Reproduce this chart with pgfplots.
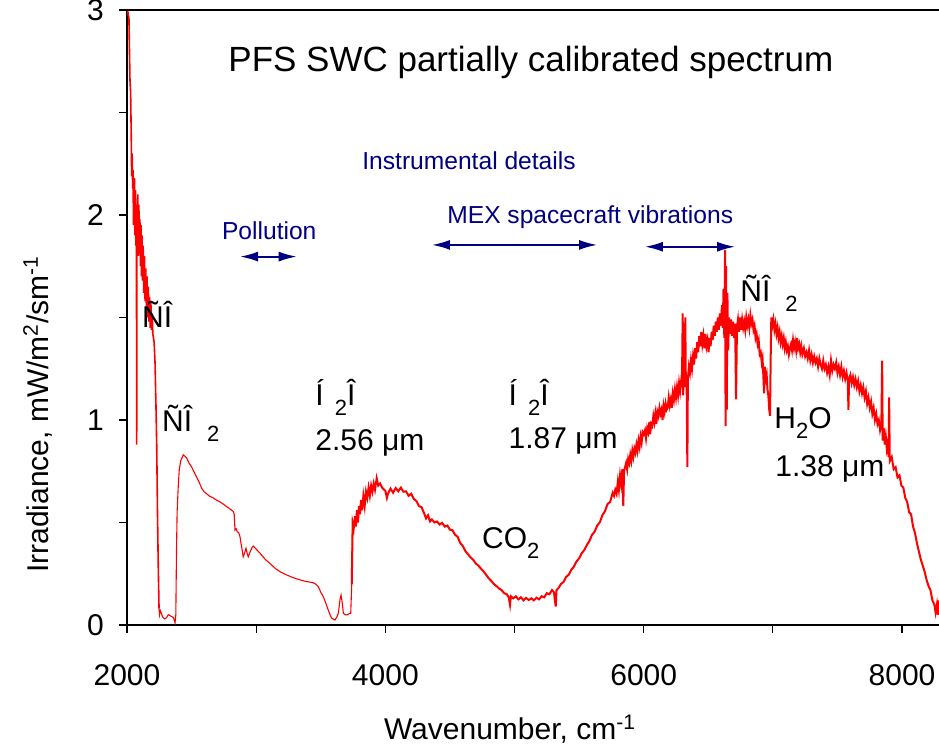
\documentclass[border=0pt]{standalone}
\usepackage{pgfplots}
\pgfplotsset{compat=1.18}
\usepackage{fontspec}
\setmainfont{Liberation Sans}
\usetikzlibrary{arrows.meta}
\definecolor{navyb}{RGB}{0,0,128}
\newcommand{\sub}[1]{\raisebox{-5pt}{\fontsize{11}{11}\selectfont #1}}
\pgfplotstableread{
x y
2000 3.10
2008 2.98
2015 2.96
2023 2.66
2028 2.60
2033 2.38
2036 2.19
2040 2.30
2044 2.13
2047 2.22
2050 1.95
2053 2.15
2056 1.98
2059 2.18
2062 1.90
2066 2.12
2070 1.85
2073 2.05
2075 0.88
2077 2.02
2080 1.88
2084 2.10
2088 1.80
2092 2.05
2096 1.82
2100 1.98
2104 1.75
2108 1.95
2112 1.70
2116 1.90
2120 1.68
2125 1.85
2130 1.62
2135 1.80
2140 1.58
2145 1.74
2150 1.55
2155 1.70
2160 1.50
2165 1.65
2170 1.48
2175 1.60
2180 1.45
2185 1.57
2190 1.44
2195 1.52
2200 1.42
2205 1.40
2210 1.38
2217 1.28
2224 1.08
2230 0.88
2236 0.55
2242 0.29
2248 0.08
2252 0.05
2258 0.07
2265 0.06
2275 0.04
2290 0.03
2305 0.035
2320 0.05
2335 0.045
2350 0.04
2360 0.035
2372 0.01
2378 0.05
2383 0.35
2388 0.55
2397 0.68
2405 0.76
2416 0.80
2436 0.83
2445 0.825
2462 0.815
2480 0.79
2501 0.77
2520 0.745
2540 0.72
2560 0.695
2578 0.667
2597 0.65
2617 0.64
2640 0.628
2668 0.62
2690 0.61
2720 0.60
2745 0.59
2772 0.577
2800 0.565
2823 0.553
2830 0.54
2836 0.463
2845 0.47
2854 0.455
2865 0.45
2875 0.43
2882 0.40
2888 0.38
2895 0.35
2900 0.333
2910 0.35
2921 0.374
2930 0.35
2939 0.333
2955 0.36
2970 0.38
2978 0.385
3000 0.37
3030 0.35
3070 0.32
3107 0.30
3150 0.275
3185 0.26
3236 0.244
3290 0.23
3339 0.22
3390 0.212
3442 0.206
3460 0.20
3481 0.187
3500 0.16
3520 0.138
3540 0.105
3558 0.073
3575 0.045
3585 0.033
3610 0.024
3625 0.04
3636 0.057
3648 0.12
3657 0.146
3666 0.11
3675 0.057
3690 0.05
3701 0.049
3720 0.055
3732 0.057
3740 0.20
3747 0.496
3755 0.47
3765 0.53
3772 0.48
3780 0.56
3788 0.50
3796 0.58
3804 0.54
3812 0.61
3820 0.56
3830 0.63
3840 0.58
3850 0.65
3860 0.62
3870 0.67
3880 0.63
3890 0.68
3900 0.65
3910 0.69
3920 0.66
3933 0.716
3945 0.68
3959 0.69
3975 0.67
3990 0.66
4000 0.655
4012 0.62
4020 0.64
4040 0.665
4060 0.645
4080 0.668
4100 0.652
4120 0.67
4140 0.65
4160 0.652
4180 0.63
4200 0.64
4220 0.615
4240 0.605
4260 0.58
4280 0.575
4300 0.545
4315 0.52
4330 0.535
4346 0.505
4360 0.515
4380 0.50
4400 0.505
4420 0.49
4440 0.498
4460 0.48
4480 0.485
4500 0.465
4520 0.462
4540 0.44
4560 0.43
4580 0.40
4600 0.385
4620 0.36
4640 0.345
4660 0.33
4680 0.318
4700 0.30
4720 0.29
4740 0.275
4760 0.262
4780 0.245
4800 0.228
4820 0.215
4840 0.20
4860 0.19
4880 0.178
4900 0.17
4920 0.155
4940 0.15
4955 0.135
4965 0.098
4972 0.14
4990 0.13
5010 0.14
5030 0.125
5050 0.135
5070 0.12
5090 0.132
5110 0.122
5130 0.13
5150 0.12
5170 0.133
5190 0.125
5210 0.14
5230 0.135
5250 0.155
5270 0.15
5290 0.17
5305 0.16
5319 0.09
5325 0.17
5340 0.18
5360 0.20
5380 0.21
5400 0.235
5420 0.245
5440 0.27
5460 0.285
5480 0.31
5500 0.325
5520 0.35
5540 0.365
5560 0.39
5580 0.41
5600 0.44
5620 0.455
5640 0.485
5660 0.50
5680 0.535
5700 0.555
5720 0.59
5740 0.60
5760 0.645
5770 0.63
5780 0.66
5790 0.64
5800 0.70
5808 0.66
5817 0.73
5825 0.69
5835 0.76
5842 0.58
5848 0.75
5856 0.77
5864 0.79
5872 0.76
5880 0.81
5888 0.79
5896 0.83
5904 0.80
5912 0.85
5920 0.82
5928 0.86
5936 0.84
5944 0.88
5952 0.85
5960 0.90
5968 0.87
5976 0.92
5984 0.89
5992 0.94
6000 0.93
6010 0.95
6018 0.91
6027 0.96
6035 0.94
6044 0.99
6050 0.93
6058 0.98
6066 0.97
6075 1.02
6083 0.99
6090 1.03
6098 0.98
6106 1.04
6114 1.02
6122 1.06
6130 1.03
6138 1.05
6146 1.00
6154 1.07
6162 1.04
6170 1.08
6178 1.05
6186 1.06
6194 1.11
6202 1.07
6210 1.10
6218 1.06
6226 1.13
6234 1.10
6242 1.15
6250 1.11
6258 1.16
6266 1.12
6274 1.18
6282 1.14
6290 1.19
6296 1.16
6302 1.52
6305 1.12
6312 1.24
6318 1.16
6322 1.50
6326 1.20
6332 1.22
6338 0.77
6342 1.20
6350 1.26
6358 1.23
6366 1.29
6374 1.25
6382 1.31
6390 1.27
6398 1.35
6406 1.30
6414 1.38
6422 1.33
6430 1.41
6438 1.36
6446 1.43
6454 1.37
6462 1.41
6470 1.35
6478 1.42
6486 1.36
6494 1.39
6502 1.33
6510 1.40
6518 1.36
6526 1.43
6534 1.39
6542 1.46
6550 1.41
6558 1.48
6566 1.43
6574 1.50
6582 1.44
6590 1.52
6598 1.46
6606 1.56
6612 1.45
6618 1.64
6624 1.40
6630 1.83
6634 0.97
6638 1.75
6643 1.05
6648 1.62
6654 1.34
6660 1.50
6668 1.42
6676 1.49
6684 1.41
6692 1.48
6700 1.40
6708 1.47
6715 1.10
6722 1.45
6730 1.49
6738 1.43
6746 1.50
6754 1.44
6762 1.49
6770 1.45
6778 1.48
6786 1.44
6794 1.50
6802 1.46
6810 1.49
6818 1.45
6826 1.51
6834 1.47
6842 1.49
6850 1.44
6858 1.46
6866 1.40
6874 1.42
6882 1.37
6890 1.39
6898 1.32
6906 1.33
6914 1.28
6920 1.30
6926 1.22
6932 1.13
6938 1.26
6945 1.20
6952 1.22
6958 1.15
6965 1.12
6972 1.05
6978 1.02
6983 1.30
6988 1.50
6996 1.46
7004 1.49
7012 1.44
7020 1.47
7028 1.42
7036 1.45
7044 1.40
7052 1.43
7060 1.38
7068 1.41
7076 1.37
7084 1.40
7092 1.35
7100 1.38
7108 1.34
7116 1.36
7124 1.32
7132 1.35
7140 1.37
7148 1.34
7156 1.39
7164 1.35
7172 1.38
7180 1.34
7188 1.40
7196 1.35
7204 1.37
7212 1.33
7220 1.36
7228 1.32
7240 1.35
7250 1.31
7260 1.33
7270 1.30
7280 1.34
7290 1.29
7300 1.32
7310 1.28
7320 1.31
7330 1.28
7340 1.30
7350 1.26
7360 1.30
7370 1.27
7380 1.25
7390 1.29
7400 1.25
7410 1.27
7420 1.23
7430 1.26
7440 1.22
7450 1.29
7460 1.24
7470 1.27
7480 1.25
7490 1.28
7500 1.23
7510 1.26
7520 1.22
7530 1.26
7540 1.21
7550 1.24
7560 1.20
7570 1.23
7580 1.19
7585 1.05
7590 1.20
7600 1.22
7610 1.18
7620 1.21
7630 1.17
7640 1.20
7650 1.16
7660 1.19
7670 1.14
7680 1.17
7690 1.13
7700 1.16
7710 1.11
7720 1.14
7730 1.08
7740 1.11
7750 1.06
7760 1.09
7770 1.03
7780 1.06
7790 1.00
7800 1.03
7810 0.98
7820 1.00
7830 0.95
7840 0.98
7846 1.29
7850 0.90
7858 0.96
7866 0.88
7874 0.92
7882 0.86
7890 0.89
7896 0.82
7900 1.11
7905 0.80
7920 0.82
7935 0.76
7950 0.77
7965 0.72
7980 0.73
7995 0.68
8010 0.67
8025 0.62
8040 0.60
8055 0.55
8070 0.54
8085 0.48
8100 0.45
8115 0.40
8130 0.36
8145 0.32
8160 0.29
8175 0.26
8190 0.22
8205 0.19
8220 0.17
8235 0.12
8250 0.10
8260 0.06
8270 0.10
8278 0.05
8286 0.12
}\spectrum
\begin{document}
\begin{tikzpicture}
\begin{axis}[
  at={(0,0)}, anchor=south west,
  scale only axis, width=406pt, height=307.5pt,
  xmin=2000, xmax=8286, ymin=0, ymax=3,
  axis lines=left,
  axis line style={-, line width=0.8pt, black},
  xtick={2000,4000,6000,8000}, minor xtick={3000,5000,7000},
  ytick={0,1,2,3}, minor ytick={0.5,1.5,2.5},
  tick align=outside,
  major tick length=4pt, minor tick length=4pt,
  every tick/.style={black, line width=0.6pt},
  /pgf/number format/assume math mode=true,
  /pgf/number format/1000 sep={},
  tick label style={font=\fontsize{15}{18}\selectfont},
  xticklabel style={yshift=-12pt},
  yticklabel style={xshift=-4pt},
  xlabel={Wavenumber, cm\textsuperscript{-1}},
  ylabel={Irradiance, mW/m\textsuperscript{2}/sm\textsuperscript{-1}},
  every axis x label/.style={at={(axis description cs:0.4717,-0.187)}, anchor=base, font=\fontsize{15}{18}\selectfont},
  every axis y label/.style={at={(axis description cs:-0.0969,0.343)}, rotate=90, anchor=base, font=\fontsize{15}{18}\selectfont},
  clip=true,
]
\addplot[red, line width=0.8pt, mark=none, restrict x to domain=2000:2250] table[x=x, y=y] {\spectrum};
\addplot[red, line width=0.55pt, mark=none, restrict x to domain=2248:3747] table[x=x, y=y] {\spectrum};
\addplot[red, line width=1.0pt, mark=none, restrict x to domain=3740:8300] table[x=x, y=y] {\spectrum};
\draw[line width=0.8pt, black] (rel axis cs:0,1) -- (rel axis cs:1,1);
\begin{scope}[every node/.style={inner sep=0pt, anchor=base west, font=\fontsize{15}{18}\selectfont}]
\node[font=\fontsize{17.5}{20}\selectfont] at (axis cs:2782,2.699) {PFS SWC partially calibrated spectrum};
\node at (axis cs:2114,1.449) {ÑÎ};
\node at (axis cs:2269,0.943) {ÑÎ\hspace{7.5pt}\sub{2}};
\node at (axis cs:3456,1.073) {Í\hspace{5.5pt}\sub{2}Î};
\node at (axis cs:3456,0.849) {2.56 μm};
\node at (axis cs:4952,1.073) {Í\hspace{5.5pt}\sub{2}Î};
\node at (axis cs:4952,0.863) {1.87 μm};
\node at (axis cs:4746,0.374) {CO\sub{2}};
\node at (axis cs:6746,1.577) {ÑÎ\hspace{7.5pt}\sub{2}};
\node at (axis cs:7009,0.959) {H\sub{2}O};
\node at (axis cs:7017,0.723) {1.38 μm};
\end{scope}
\begin{scope}[every node/.style={inner sep=0pt, anchor=base west, text=navyb, font=\fontsize{12.3}{14}\selectfont}]
\node at (axis cs:2733,1.878) {Pollution};
\node at (axis cs:3819,2.22) {Instrumental details};
\node at (axis cs:4477,1.96) {MEX spacecraft vibrations};
\end{scope}
\draw[navyb, line width=0.9pt, {Latex[length=9pt,width=5pt]}-{Latex[length=9pt,width=5pt]}] (axis cs:2875,1.797) -- (axis cs:3314,1.797);
\draw[navyb, line width=0.9pt, {Latex[length=9pt,width=5pt]}-{Latex[length=9pt,width=5pt]}] (axis cs:4361,1.854) -- (axis cs:5639,1.854);
\draw[navyb, line width=0.9pt, {Latex[length=9pt,width=5pt]}-{Latex[length=9pt,width=5pt]}] (axis cs:6010,1.845) -- (axis cs:6707,1.845);
\end{axis}
\pgfresetboundingbox
\useasboundingbox (-63.5pt,-61pt) rectangle (406pt,312.5pt);
\end{tikzpicture}
\end{document}
